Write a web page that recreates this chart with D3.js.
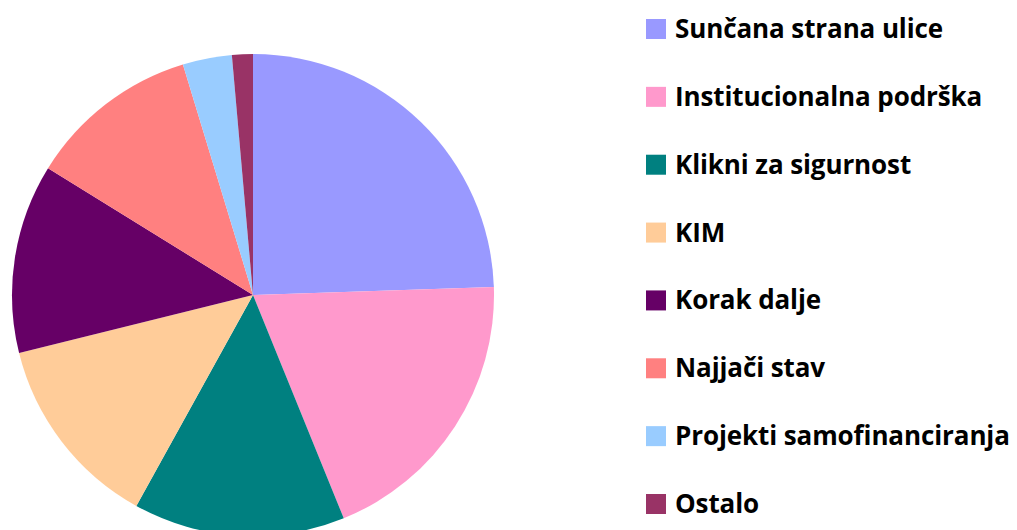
<!DOCTYPE html>
<html>
<head>
<meta charset="utf-8">
<script src="https://cdn.jsdelivr.net/npm/d3@7"></script>
<style>
  body { margin: 0; background: #fff; }
  svg { display: block; }
</style>
</head>
<body>
<script>
// chart data
var categories = ["Sunčana strana ulice", "Institucionalna podrška", "Klikni za sigurnost",
  "KIM", "Korak dalje", "Najjači stav", "Projekti samofinanciranja", "Ostalo"];
var values = [24.5, 19.4, 14.2, 13.1, 12.7, 11.5, 3.3, 1.4];
var colors = ["#9999FF", "#FF99CC", "#008080", "#FFCC99", "#660066", "#FF8080", "#99CCFF", "#993366"];

var width = 1017, height = 530;
var cx = 253, cy = 295, radius = 241;

var svg = d3.select("body").append("svg")
  .attr("width", width)
  .attr("height", height);

var color = d3.scaleOrdinal().domain(categories).range(colors);

var pie = d3.pie().sort(null).value(function(d, i) { return values[i]; });
var arc = d3.arc().innerRadius(0).outerRadius(radius);

var g = svg.append("g")
  .attr("transform", "translate(" + cx + "," + cy + ")");

g.selectAll("path")
  .data(pie(categories))
  .enter()
  .append("path")
  .attr("d", arc)
  .attr("fill", function(d) { return color(d.data); });

// legend
var legendY = d3.scalePoint().domain(categories).range([29, 504]);

var legend = svg.append("g").attr("transform", "translate(646,0)");

var rows = legend.selectAll("g")
  .data(categories)
  .enter()
  .append("g")
  .attr("transform", function(d) { return "translate(0," + legendY(d) + ")"; });

rows.append("rect")
  .attr("y", -10)
  .attr("width", 20)
  .attr("height", 20)
  .attr("fill", function(d) { return color(d); });

rows.append("text")
  .attr("x", 29)
  .attr("y", 9)
  .style("font-family", "'Open Sans', sans-serif")
  .style("font-weight", "bold")
  .style("font-size", "26px")
  .style("letter-spacing", "-0.1px")
  .style("fill", "#000")
  .text(function(d) { return d; });
</script>
</body>
</html>
